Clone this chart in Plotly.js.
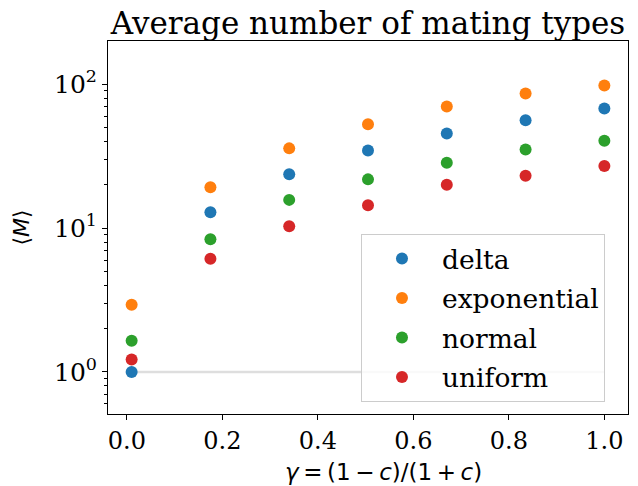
<!DOCTYPE html>
<html>
<head>
<meta charset="utf-8">
<script src="https://cdn.plot.ly/plotly-3.0.1.min.js"></script>
<style>html,body{margin:0;padding:0;background:#fff;}</style>
</head>
<body>
<div id="chart" style="width:638px;height:486px;"></div>
<script>
const gammaVals = [0.01, 0.175, 0.34, 0.505, 0.67, 0.835, 1.0];
const deltaM = [1.0, 12.9, 23.7, 34.6, 45.4, 56.2, 67.8];
const exponentialM = [2.93, 19.2, 35.8, 52.7, 70.0, 86.1, 97.9];
const normalM = [1.65, 8.35, 15.7, 21.8, 28.4, 35.2, 40.4];
const uniformM = [1.22, 6.12, 10.3, 14.4, 20.0, 23.1, 27.0];
const seriesNames = ['delta', 'exponential', 'normal', 'uniform'];
const seriesColors = ['#1f77b4', '#ff7f0e', '#2ca02c', '#d62728'];
const refLineX = [0.01, 1.0];
const refLineY = [1, 1];
const xTickVals = [0, 0.2, 0.4, 0.6, 0.8, 1.0];
const yMajorVals = [1, 10, 100];
const yMajorText = ['10<sup>0</sup>', '10<sup>1</sup>', '10<sup>2</sup>'];
const yMinorVals = [0.6,0.7,0.8,0.9,2,3,4,5,6,7,8,9,20,30,40,50,60,70,80,90,200];

const seriesData = [deltaM, exponentialM, normalM, uniformM];
const traces = [{
  x: refLineX, y: refLineY, mode: 'lines', showlegend: false, hoverinfo: 'skip',
  line: {color: 'rgba(0,0,0,0.13)', width: 2.5}
}];
seriesData.forEach((ys, i) => {
  traces.push({
    x: gammaVals, y: ys, mode: 'markers', name: seriesNames[i],
    legendgroup: seriesNames[i],
    marker: {color: seriesColors[i], size: 12}
  });
});

const serif = 'DejaVu Serif, serif';
const sans = 'DejaVu Sans, sans-serif';
const TS = '\u2009';
const layout = {
  width: 638, height: 486,
  margin: {l: 108, r: 10, t: 41, b: 72},
  paper_bgcolor: '#fff', plot_bgcolor: '#fff',
  title: {text: 'Average number of mating types', font: {family: serif, size: 31, color: '#000'},
          x: 0.5, xref: 'paper', xanchor: 'center', y: 1, yref: 'paper', yanchor: 'bottom', pad: {b: 7}},
  xaxis: {
    range: [-0.0395, 1.0495], showgrid: false, zeroline: false,
    showline: true, mirror: true, linecolor: '#000', linewidth: 1,
    ticks: 'outside', ticklen: 5, tickwidth: 1, tickcolor: '#000',
    tickvals: xTickVals, tickformat: '.1f',
    tickfont: {family: serif, size: 24, color: '#000'}
  },
  yaxis: {
    type: 'log', range: [-0.292, 2.30], showgrid: false, zeroline: false,
    showline: true, mirror: true, linecolor: '#000', linewidth: 1,
    ticks: 'outside', ticklen: 5, tickwidth: 1, tickcolor: '#000',
    tickmode: 'array', tickvals: yMajorVals, ticktext: yMajorText,
    tickfont: {family: serif, size: 25, color: '#000'},
    minor: {tickmode: 'array', tickvals: yMinorVals, ticks: 'outside', ticklen: 3, tickwidth: 1, tickcolor: '#000', showgrid: false},
    title: {text: '⟨<i>M</i>⟩', font: {family: sans, size: 22, color: '#000'}, standoff: 18}
  },
  annotations: [{
    text: '<i>γ</i>' + TS + '=' + TS + '(1' + TS + '−' + TS + '<i>c</i>)/(1' + TS + '+' + TS + '<i>c</i>)',
    xref: 'paper', yref: 'paper',
    x: 0.529, y: -0.1925, xanchor: 'center', yanchor: 'bottom', showarrow: false, borderpad: 0,
    font: {family: sans, size: 23, color: '#000'}
  }],
  legend: {
    x: 0.4865, y: 0.483, xanchor: 'left', yanchor: 'top',
    bgcolor: 'rgba(255,255,255,0.8)', bordercolor: '#cccccc', borderwidth: 1,
    font: {family: serif, size: 26.5, color: '#000'},
    traceorder: 'grouped', tracegroupgap: 2, itemwidth: 70
  },
  showlegend: true
};
Plotly.newPlot('chart', traces, layout, {staticPlot: true, displayModeBar: false});
</script>
</body>
</html>
